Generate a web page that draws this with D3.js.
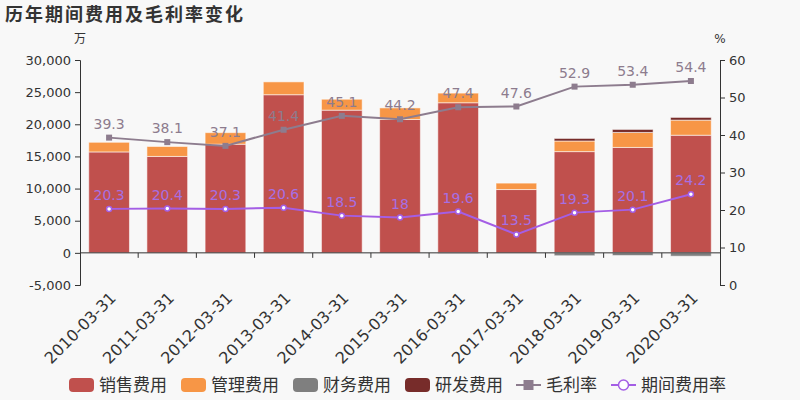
<!DOCTYPE html>
<html><head><meta charset="utf-8">
<script src="https://cdn.jsdelivr.net/npm/d3@7"></script>
<style>
html,body{margin:0;padding:0;background:#f8f8f8;}
svg{display:block;font-family:"DejaVu Sans",sans-serif;}
</style></head>
<body><svg id="c" width="800" height="400"></svg>
<script>
const categories = ["2010-03-31","2011-03-31","2012-03-31","2013-03-31","2014-03-31","2015-03-31","2016-03-31","2017-03-31","2018-03-31","2019-03-31","2020-03-31"];
const sales   = [15700, 15000, 16900, 24600, 22200, 20750, 23350, 9850, 15750, 16400, 18300];
const admin   = [1500, 1550, 1800, 2000, 1700, 1800, 1500, 1000, 1650, 2330, 2350];
const finance = [0, 0, 0, 0, 0, 0, -100, 0, -450, -420, -520];
const rnd     = [0, 0, 0, 0, 0, 0, 0, 0, 400, 470, 420];
const grossMargin = [39.3, 38.1, 37.1, 41.4, 45.1, 44.2, 47.4, 47.6, 52.9, 53.4, 54.4];
const expenseRate = [20.3, 20.4, 20.3, 20.6, 18.5, 18, 19.6, 13.5, 19.3, 20.1, 24.2];
const leftTicks = [-5000, 0, 5000, 10000, 15000, 20000, 25000, 30000];
const rightTicks = [0, 10, 20, 30, 40, 50, 60];
const barSeries = [
  {name:"销售费用", values:sales, color:"#c0504d"},
  {name:"管理费用", values:admin, color:"#f79646"},
  {name:"财务费用", values:finance, color:"#7f7f7f"},
  {name:"研发费用", values:rnd, color:"#772c2a"}
];
const lineSeries = [
  {name:"毛利率", values:grossMargin, color:"#8d7c8e", label:"#8d7c8e", marker:"rect"},
  {name:"期间费用率", values:expenseRate, color:"#a45ee5", label:"#a66fe3", marker:"circle"}
];

const svg = d3.select("#c");
const L = 80, R = 720, T = 60, B = 285;
const x = d3.scaleBand().domain(categories).range([L, R]).paddingInner(0).paddingOuter(0);
const yL = d3.scaleLinear().domain([-5000, 30000]).range([B, T]);
const yR = d3.scaleLinear().domain([0, 60]).range([B, T]);

// title
svg.append("text").attr("x", 5).attr("y", 21).text("历年期间费用及毛利率变化")
  .attr("font-family", "'Noto Sans CJK SC',sans-serif").attr("font-weight", "bold")
  .attr("font-size", 18).attr("letter-spacing", 2).attr("fill", "#333");
// axis titles
svg.append("text").attr("x", 80).attr("y", 43).attr("text-anchor", "middle").text("万")
  .attr("font-family", "'Noto Sans CJK SC',sans-serif").attr("font-size", 12).attr("fill", "#333");
svg.append("text").attr("x", 720).attr("y", 43).attr("text-anchor", "middle").text("%")
  .attr("font-size", 12).attr("fill", "#333");

// bars: stacked, positives and negatives separately
const bw = x.bandwidth() * 0.7;
const posBase = categories.map(() => 0), negBase = categories.map(() => 0);
barSeries.forEach(s => {
  const g = svg.append("g");
  s.values.forEach((v, i) => {
    if (!v) return;
    let y0, y1;
    if (v > 0) { y0 = posBase[i]; y1 = y0 + v; posBase[i] = y1; }
    else { y0 = negBase[i]; y1 = y0 + v; negBase[i] = y1; }
    const top = yL(Math.max(y0, y1)), bot = yL(Math.min(y0, y1));
    g.append("rect")
      .attr("x", x(categories[i]) + (x.bandwidth() - bw) / 2)
      .attr("y", top).attr("width", bw).attr("height", Math.max(0.5, bot - top))
      .attr("fill", s.color).attr("stroke", "rgba(255,255,255,0.55)").attr("stroke-width", 1);
  });
});

// axes
const fmt = d3.format(",");
const axL = svg.append("g").attr("transform", `translate(${L},0)`)
  .call(d3.axisLeft(yL).tickValues(leftTicks).tickFormat(d => fmt(d).replace("\u2212", "-")).tickSize(5).tickPadding(4));
const axR = svg.append("g").attr("transform", `translate(${R},0)`)
  .call(d3.axisRight(yR).tickValues(rightTicks).tickSize(5).tickPadding(4));
[axL, axR].forEach(a => {
  a.select(".domain").attr("stroke", "#333");
  a.selectAll(".tick line").attr("stroke", "#333");
  a.selectAll("text").attr("font-size", 13).attr("fill", "#333").attr("font-family", "'DejaVu Sans',sans-serif");
});
// x axis at zero
const y0 = yL(0);
svg.append("line").attr("x1", L).attr("x2", R).attr("y1", y0).attr("y2", y0).attr("stroke", "#333");
const bounds = categories.map(c => x(c)).concat([R]);
svg.append("g").selectAll("line").data(bounds.slice(1, -1)).join("line")
  .attr("x1", d => d).attr("x2", d => d).attr("y1", y0).attr("y2", y0 + 5).attr("stroke", "#333");
svg.append("g").selectAll("text").data(categories).join("text")
  .attr("transform", d => `translate(${x(d) + x.bandwidth() / 2 + 4},${B + 10}) rotate(-45)`)
  .attr("text-anchor", "end").attr("dy", "0.35em")
  .attr("font-size", 16).attr("fill", "#333").text(d => d);

// lines
lineSeries.forEach(s => {
  const pts = s.values.map((v, i) => [x(categories[i]) + x.bandwidth() / 2, yR(v)]);
  svg.append("path").attr("d", d3.line()(pts)).attr("fill", "none")
    .attr("stroke", s.color).attr("stroke-width", 2);
  const g = svg.append("g");
  pts.forEach(p => {
    if (s.marker === "rect") {
      g.append("rect").attr("x", p[0] - 3).attr("y", p[1] - 3).attr("width", 6).attr("height", 6).attr("fill", s.color);
    } else {
      g.append("circle").attr("cx", p[0]).attr("cy", p[1]).attr("r", 2.5).attr("fill", "#fff").attr("stroke", s.color).attr("stroke-width", 1.5);
    }
  });
  g.selectAll("text.lab").data(s.values).join("text")
    .attr("x", (d, i) => pts[i][0]).attr("y", (d, i) => pts[i][1] - 9)
    .attr("text-anchor", "middle").attr("font-size", 14).attr("fill", s.label).text(d => d);
});

// legend
const legY = 385;
const lg = svg.append("g");
const items = [
  {x:69, type:"bar", color:"#c0504d", name:"销售费用"},
  {x:181, type:"bar", color:"#f79646", name:"管理费用"},
  {x:293, type:"bar", color:"#7f7f7f", name:"财务费用"},
  {x:405, type:"bar", color:"#772c2a", name:"研发费用"},
  {x:516, type:"rect", color:"#8d7c8e", name:"毛利率"},
  {x:611, type:"circle", color:"#a45ee5", name:"期间费用率"}
];
items.forEach(it => {
  if (it.type === "bar") {
    lg.append("rect").attr("x", it.x).attr("y", legY - 7).attr("width", 25).attr("height", 14).attr("rx", 4).attr("fill", it.color);
  } else {
    lg.append("line").attr("x1", it.x).attr("x2", it.x + 25).attr("y1", legY).attr("y2", legY).attr("stroke", it.color).attr("stroke-width", 2);
    if (it.type === "rect") lg.append("rect").attr("x", it.x + 7.5).attr("y", legY - 5).attr("width", 10).attr("height", 10).attr("fill", it.color);
    else lg.append("circle").attr("cx", it.x + 12.5).attr("cy", legY).attr("r", 5).attr("fill", "#fff").attr("stroke", it.color).attr("stroke-width", 1.5);
  }
  lg.append("text").attr("x", it.x + 30).attr("y", legY).attr("dy", "0.35em")
    .attr("font-family", "'Noto Sans CJK SC',sans-serif").attr("font-size", 17).attr("fill", "#333").text(it.name);
});
</script></body></html>
